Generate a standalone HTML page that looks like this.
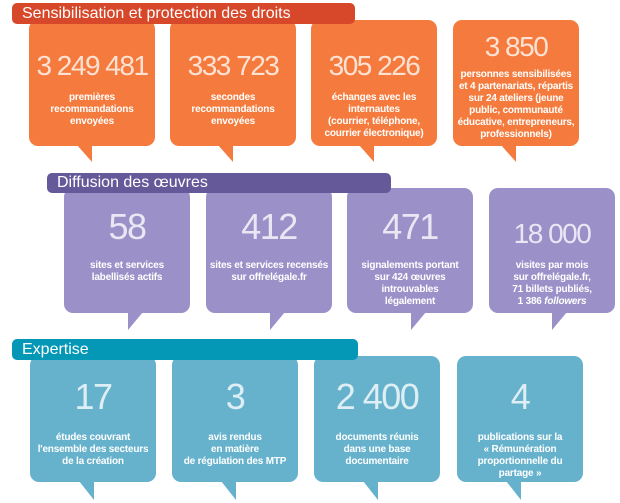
<!DOCTYPE html>
<html><head><meta charset="utf-8"><style>
body{margin:0;width:620px;height:503px;background:#fff;position:relative;overflow:hidden;font-family:"Liberation Sans",sans-serif}
.h{position:absolute;color:#fff;font-size:16px;padding-left:10px;box-sizing:border-box;border-radius:5px;line-height:21px}
.b{position:absolute;width:126px;border-radius:9px;color:#fff;text-align:center}
.n{position:absolute;left:0;right:0;font-size:28px;font-weight:normal;letter-spacing:-1.5px;color:rgba(255,255,255,.78)}
.t{position:absolute;left:-6px;right:-6px;font-size:10px;font-weight:bold;line-height:12px;letter-spacing:-0.2px;white-space:nowrap}
</style></head><body>
<div class="h" style="left:12px;top:3px;width:343px;height:21px;background:#d7472a;z-index:2">Sensibilisation et protection des droits</div>
<div class="h" style="left:47px;top:173px;width:344px;height:20px;background:#65599a;z-index:2;line-height:20px">Diffusion des œuvres</div>
<div class="h" style="left:12px;top:339px;width:346px;height:21px;background:#0597b6;z-index:2">Expertise</div>

<div class="b" style="left:29px;top:20px;height:126px;background:#f47b3d"><div class="n" style="top:30px">3 249 481</div><div class="t" style="top:72px">premières<br>recommandations<br>envoyées</div></div>
<div class="b" style="left:170px;top:20px;height:126px;background:#f47b3d"><div class="n" style="top:30px">333 723</div><div class="t" style="top:72px">secondes<br>recommandations<br>envoyées</div></div>
<div class="b" style="left:311px;top:20px;height:126px;background:#f47b3d"><div class="n" style="top:30px">305 226</div><div class="t" style="top:72px">échanges avec les<br>internautes<br>(courrier, téléphone,<br>courrier électronique)</div></div>
<div class="b" style="left:453px;top:20px;height:126px;background:#f47b3d"><div class="n" style="top:11px">3 850</div><div class="t" style="top:49px">personnes sensibilisées<br>et 4 partenariats, répartis<br>sur 24 ateliers (jeune<br>public, communauté<br>éducative, entrepreneurs,<br>professionnels)</div></div>

<div class="b" style="left:64px;top:188px;height:125px;background:#9b91c8"><div class="n" style="top:18px;font-size:36px">58</div><div class="t" style="top:72px">sites et services<br>labellisés actifs</div></div>
<div class="b" style="left:206px;top:188px;height:125px;background:#9b91c8"><div class="n" style="top:18px;font-size:36px">412</div><div class="t" style="top:72px">sites et services recensés<br>sur offrelégale.fr</div></div>
<div class="b" style="left:347px;top:188px;height:125px;background:#9b91c8"><div class="n" style="top:18px;font-size:36px">471</div><div class="t" style="top:72px">signalements portant<br>sur 424 œuvres<br>introuvables<br>légalement</div></div>
<div class="b" style="left:489px;top:188px;height:125px;background:#9b91c8"><div class="n" style="top:30px">18 000</div><div class="t" style="top:72px">visites par mois<br>sur offrelégale.fr,<br>71 billets publiés,<br>1 386 <i>followers</i></div></div>

<div class="b" style="left:30px;top:356px;height:126px;background:#66b2cc"><div class="n" style="top:20px;font-size:36px">17</div><div class="t" style="top:76px">études couvrant<br>l'ensemble des secteurs<br>de la création</div></div>
<div class="b" style="left:172px;top:356px;height:126px;background:#66b2cc"><div class="n" style="top:20px;font-size:36px">3</div><div class="t" style="top:76px">avis rendus<br>en matière<br>de régulation des MTP</div></div>
<div class="b" style="left:314px;top:356px;height:126px;background:#66b2cc"><div class="n" style="top:20px;font-size:36px">2 400</div><div class="t" style="top:76px">documents réunis<br>dans une base<br>documentaire</div></div>
<div class="b" style="left:457px;top:356px;height:126px;background:#66b2cc"><div class="n" style="top:20px;font-size:36px">4</div><div class="t" style="top:76px">publications sur la<br>« Rémunération<br>proportionnelle du<br>partage »</div></div>

<svg width="620" height="503" style="position:absolute;left:0;top:0">
<g fill="#f47b3d">
<polygon points="77,145 92,145 92,162"/><polygon points="218,145 233,145 233,162"/><polygon points="359,145 374,145 374,162"/><polygon points="501,145 516,145 516,162"/>
</g>
<g fill="#9b91c8">
<polygon points="128,312 143,312 128,330"/><polygon points="270,312 285,312 270,330"/><polygon points="411,312 426,312 411,330"/><polygon points="552,312 567,312 552,330"/>
</g>
<g fill="#66b2cc">
<polygon points="79,481 94,481 94,500"/><polygon points="221,481 236,481 236,500"/><polygon points="363,481 378,481 378,500"/><polygon points="506,481 521,481 521,500"/>
</g>
</svg>
</body></html>
